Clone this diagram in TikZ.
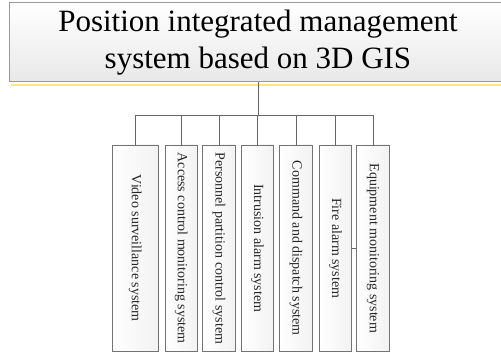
\documentclass[tikz,border=0pt]{standalone}
\usepackage{fontspec}
\setmainfont{Liberation Serif}
\usepackage{tikz}
\usetikzlibrary{shapes,arrows}
\tikzset{
  title/.style    = {draw=black!40, line width=1pt, rectangle, top color=white, bottom color=black!9,
                     minimum width=498pt, minimum height=79pt, align=center,
                     font=\fontsize{31}{37}\selectfont},
  subsys/.style   = {draw=black!55, line width=0.9pt, rectangle, left color=white, right color=black!5,
                     minimum width=32.5pt, minimum height=206.5pt, inner sep=0pt, text=black!85,
                     font=\fontsize{14}{16}\selectfont},
  link/.style     = {draw=black!60, line width=0.8pt}
}
\newcommand{\vtext}[1]{\rotatebox{-90}{#1}}

\begin{document}
\begin{tikzpicture}[x=1pt, y=1pt, node distance=38.5pt]
\useasboundingbox (0,0) rectangle (501,354);

% Top block
\draw node [title] at (258,311.5) (gis) {Position integrated management\\system based on 3D GIS};
\draw[yellow!70!orange!50, line width=1.5pt] ([xshift=2pt,yshift=-2.5pt]gis.south west) -- ([yshift=-2.5pt]gis.south east);

% Subsystems
\draw node [subsys, minimum width=46pt] at (135.3,105.75) (v1) {\vtext{Video surveillance system}};
\draw node [subsys, right of=v1, node distance=45.9pt] (v2) {\vtext{Access control monitoring system}};
\draw node [subsys, right of=v2, node distance=37.7pt] (v3) {\vtext{Personnel partition control system}};
\draw node [subsys, right of=v3] (v4) {\vtext{Intrusion alarm system}};
\draw node [subsys, right of=v4] (v5) {\vtext{Command and dispatch system}};
\draw node [subsys, right of=v5, node distance=39.5pt] (v6) {\vtext{Fire alarm system}};
\draw node [subsys, right of=v6, node distance=37.5pt] (v7) {\vtext{Equipment monitoring system}};

% Connections
\coordinate (bus) at (gis.south |- 0,239);
\draw[link] (gis.south) -- (bus);
\foreach \n in {1,...,7}
  \draw[link] (bus) -| (v\n.north);
\draw[link] (v6.east) -- (v7.west);

\end{tikzpicture}
\end{document}
